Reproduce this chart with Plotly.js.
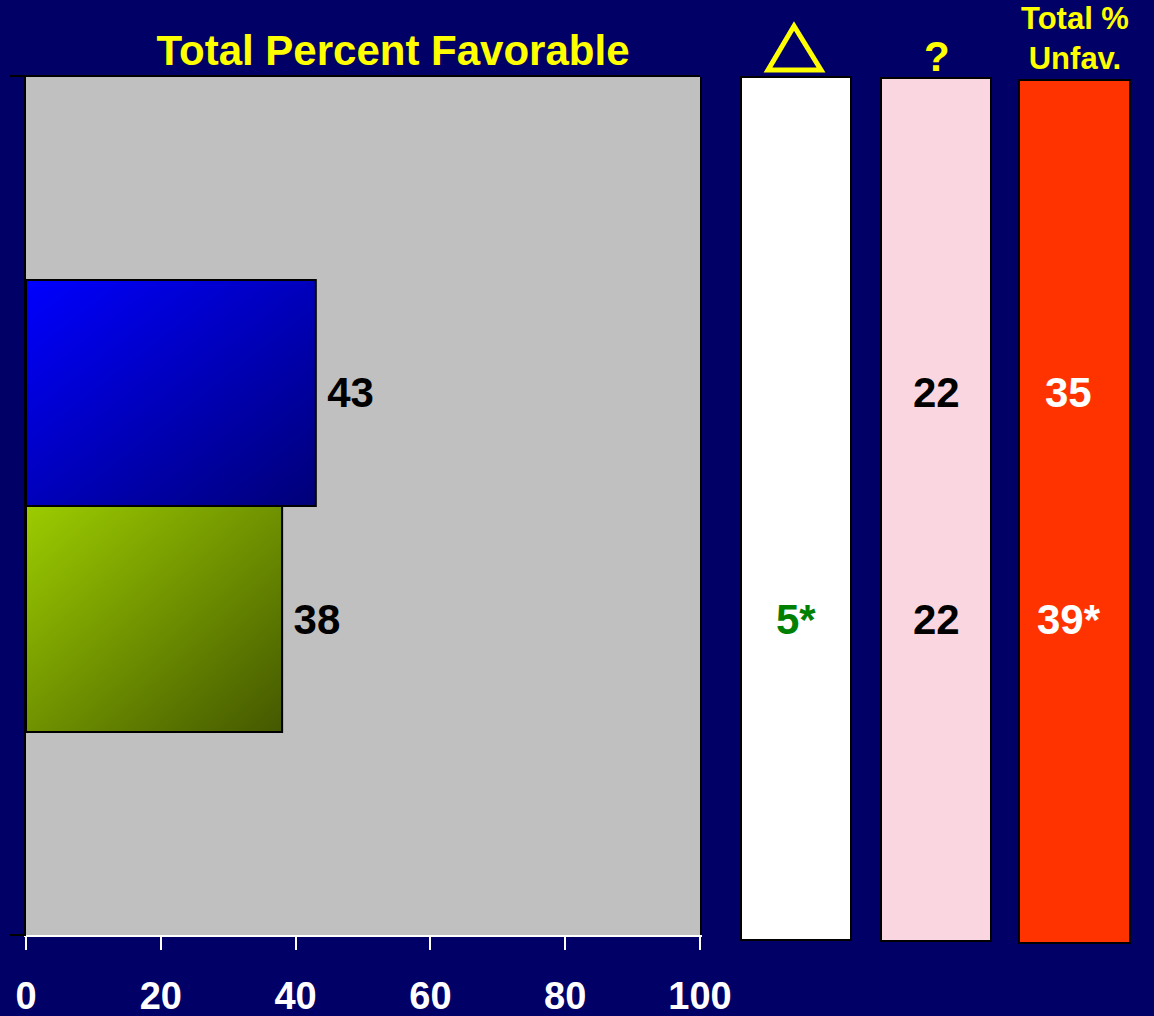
<!DOCTYPE html>
<html>
<head>
<meta charset="utf-8">
<script src="https://cdn.plot.ly/plotly-3.0.1.min.js"></script>
<style>
html,body{margin:0;padding:0;background:#000066;}
#chart{width:1154px;height:1016px;}
</style>
</head>
<body>
<div id="chart"></div>
<script>
// ---- data ----
var groups = ['Group A', 'Group B'];
var favorable = [43, 38];
var changeLabels = ['', '5*'];
var unsureValues = ['22', '22'];
var unfavLabels = ['35', '39*'];
var xTicks = [0, 20, 40, 60, 80, 100];
var titleText = 'Total Percent Favorable';
var header2 = '?';
var header3 = 'Total %<br>Unfav.';

// ---- helpers (pixel -> paper) ----
var W = 1154, H = 1016;
function px(x){ return x / W; }
function py(y){ return 1 - y / H; }

var FONT = 'Liberation Sans, Arial, Helvetica, sans-serif';

var traces = [
  {
    type: 'bar', orientation: 'h',
    y: groups, x: favorable,
    text: favorable.map(function(v){ return '\u2009' + v; }),
    textposition: 'outside',
    cliponaxis: false,
    textfont: {family: FONT, size: 42, color: '#000000', weight: 'bold'},
    marker: {color: ['#0000ee', '#80aa00'], line: {color: '#000000', width: 2}},
    xaxis: 'x', yaxis: 'y', hoverinfo: 'none'
  },
  // invisible anchors so the side panels' axes exist
  {type: 'scatter', mode: 'none', xaxis: 'x2', yaxis: 'y', x: [0.5, 0.5], y: groups, hoverinfo: 'none'},
  {type: 'scatter', mode: 'none', xaxis: 'x3', yaxis: 'y', x: [0.5, 0.5], y: groups, hoverinfo: 'none'},
  {type: 'scatter', mode: 'none', xaxis: 'x4', yaxis: 'y', x: [0.5, 0.5], y: groups, hoverinfo: 'none'}
];

function hiddenAxis(d){
  return {domain: d, anchor: 'y', range: [0, 1], visible: false, showline: false,
          zeroline: false, showgrid: false, showticklabels: false, ticks: '', fixedrange: true};
}

function panelAnnotations(xref, xpos, labels, color){
  return labels.map(function(t, i){
    return {xref: xref, yref: 'y', x: xpos, y: groups[i], text: '<b>' + t + '</b>',
            showarrow: false, xanchor: 'center', yanchor: 'middle', yshift: 0,
            font: {family: FONT, size: 42, color: color}};
  });
}

var annotations = [
  {xref: 'paper', yref: 'paper', x: px(937), y: py(56), xanchor: 'center', yanchor: 'middle',
   text: '<b>' + header2 + '</b>', showarrow: false,
   font: {family: FONT, size: 42, color: '#ffff00'}},
  {xref: 'paper', yref: 'paper', x: px(1075), y: py(38), xanchor: 'center', yanchor: 'middle',
   text: '<b>' + header3 + '</b>', showarrow: false,
   font: {family: FONT, size: 31, color: '#ffff00'}}
].concat(panelAnnotations('x2', 0.5, changeLabels, '#008000'))
 .concat(panelAnnotations('x3', 0.5, unsureValues, '#000000'))
 .concat(panelAnnotations('x4', 0.45, unfavLabels, '#ffffff'));

var layout = {
  width: W, height: H,
  margin: {l: 0, r: 0, t: 0, b: 0},
  paper_bgcolor: '#000066',
  plot_bgcolor: 'rgba(0,0,0,0)',
  showlegend: false,
  bargap: 0,
  title: {
    text: '<b>' + titleText + '</b>',
    x: px(393), xanchor: 'center', xref: 'paper',
    y: py(50), yanchor: 'middle', yref: 'paper',
    font: {family: FONT, size: 42, color: '#ffff00'}
  },
  xaxis: {
    domain: [px(26), px(700)],
    range: [0, 100],
    tickvals: xTicks,
    ticktext: xTicks.map(String),
    showgrid: false, zeroline: false,
    showline: true, linecolor: '#ffffff', linewidth: 2,
    ticks: 'outside', ticklen: 13, tickwidth: 2, tickcolor: '#ffffff',
    ticklabelstandoff: 13,
    tickfont: {family: FONT, size: 38, color: '#ffffff', weight: 'bold'},
    anchor: 'y', fixedrange: true
  },
  yaxis: {
    domain: [py(935), py(77)],
    range: [2.398, -1.398],
    type: 'category',
    showticklabels: false, ticks: '',
    showgrid: false, zeroline: false,
    showline: true, linecolor: '#000000', linewidth: 2, mirror: true,
    fixedrange: true
  },
  xaxis2: hiddenAxis([px(741), px(851)]),
  xaxis3: hiddenAxis([px(881), px(991)]),
  xaxis4: hiddenAxis([px(1019), px(1130)]),
  shapes: [
    // main plot background
    {type: 'rect', xref: 'x domain', yref: 'y domain', x0: 0, x1: 1, y0: 0, y1: 1,
     fillcolor: '#c0c0c0', line: {width: 0}, layer: 'below'},
    {type: 'line', xref: 'paper', yref: 'paper', x0: px(10), x1: px(700), y0: py(76), y1: py(76),
     line: {color: '#000000', width: 2}},
    {type: 'line', xref: 'paper', yref: 'paper', x0: px(10), x1: px(26), y0: py(935), y1: py(935),
     line: {color: '#000000', width: 2}},
    {type: 'rect', xref: 'paper', yref: 'paper', x0: px(741), x1: px(851), y0: py(940), y1: py(77),
     fillcolor: '#ffffff', line: {color: '#000000', width: 2}, layer: 'below'},
    {type: 'rect', xref: 'paper', yref: 'paper', x0: px(881), x1: px(991), y0: py(941), y1: py(78),
     fillcolor: '#fad7e0', line: {color: '#000000', width: 2}, layer: 'below'},
    {type: 'rect', xref: 'paper', yref: 'paper', x0: px(1019), x1: px(1130), y0: py(943), y1: py(80),
     fillcolor: '#ff3300', line: {color: '#000000', width: 2}, layer: 'below'},
    {type: 'path', xref: 'paper', yref: 'paper',
     path: 'M ' + px(794) + ',' + py(26) + ' L ' + px(821) + ',' + py(70) + ' L ' + px(768) + ',' + py(70) + ' Z',
     line: {color: '#ffff00', width: 5}, fillcolor: 'rgba(0,0,0,0)'}
  ],
  annotations: annotations
};

Plotly.newPlot('chart', traces, layout, {staticPlot: true, displayModeBar: false}).then(function(gd){
  var svg = gd.querySelector('.main-svg');
  var defs = svg.querySelector('defs');
  var ns = 'http://www.w3.org/2000/svg';
  function addGrad(id, c1, c2){
    var g = document.createElementNS(ns, 'linearGradient');
    g.setAttribute('id', id);
    g.setAttribute('x1', '0'); g.setAttribute('y1', '0');
    g.setAttribute('x2', '1'); g.setAttribute('y2', '1');
    var s1 = document.createElementNS(ns, 'stop');
    s1.setAttribute('offset', '0'); s1.setAttribute('stop-color', c1);
    var s2 = document.createElementNS(ns, 'stop');
    s2.setAttribute('offset', '1'); s2.setAttribute('stop-color', c2);
    g.appendChild(s1); g.appendChild(s2);
    defs.appendChild(g);
  }
  addGrad('gradBlue', '#0000ff', '#000078');
  addGrad('gradGreen', '#9ccc00', '#445800');
  var paths = gd.querySelectorAll('.barlayer .point path');
  var ids = ['gradBlue', 'gradGreen'];
  paths.forEach(function(p, i){ p.style.fill = 'url(#' + ids[i % 2] + ')'; });
});
</script>
</body>
</html>
